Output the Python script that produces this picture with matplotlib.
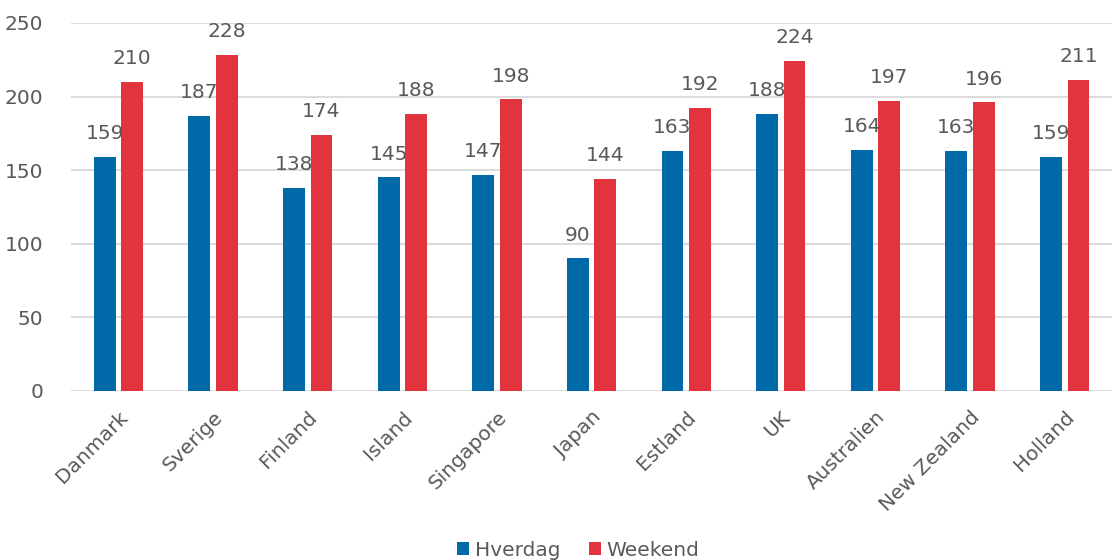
import matplotlib.pyplot as plt
import numpy as np

countries = ['Danmark', 'Sverige', 'Finland', 'Island', 'Singapore', 'Japan',
             'Estland', 'UK', 'Australien', 'New Zealand', 'Holland']
hverdag = [159, 187, 138, 145, 147, 90, 163, 188, 164, 163, 159]
weekend = [210, 228, 174, 188, 198, 144, 192, 224, 197, 196, 211]

blue = '#006aa8'
red = '#e1343e'
grey = '#595959'

plt.rcParams['font.family'] = ['DejaVu Sans']

fig = plt.figure(figsize=(11.12, 5.6), dpi=100)
ax = fig.add_axes([0.064, 0.302, 0.936, 0.657])

x = np.arange(len(countries))
w = 0.23
off = 0.145
b1 = ax.bar(x - off, hverdag, w, color=blue, label='Hverdag', zorder=3)
b2 = ax.bar(x + off, weekend, w, color=red, label='Weekend', zorder=3)

for bars in (b1, b2):
    for rect in bars:
        h = rect.get_height()
        ax.annotate(f'{h:.0f}', (rect.get_x() + rect.get_width() / 2, h),
                    xytext=(0, 10), textcoords='offset points',
                    ha='center', va='bottom', fontsize=14.5, color=grey)

ax.set_xlim(-0.5, len(countries) - 0.5)
ax.set_ylim(0, 250)
ax.set_yticks([0, 50, 100, 150, 200, 250])
ax.grid(axis='y', color='#d9d9d9', linewidth=1.3, zorder=0)
for s in ax.spines.values():
    s.set_visible(False)
ax.tick_params(axis='both', length=0, labelsize=14.5, labelcolor=grey)
ax.tick_params(axis='y', pad=20)
ax.set_xticks(x)
ax.set_xticklabels(countries, rotation=45, ha='right', rotation_mode='anchor')
ax.tick_params(axis='x', pad=12)

fig.legend(handles=[b1, b2], loc='lower center', bbox_to_anchor=(0.52, -0.032),
           ncol=2, frameon=False, fontsize=14.5, labelcolor=grey,
           handlelength=0.6, handleheight=0.6, handletextpad=0.3, columnspacing=1.4)

fig.savefig('out.png', dpi=100)
